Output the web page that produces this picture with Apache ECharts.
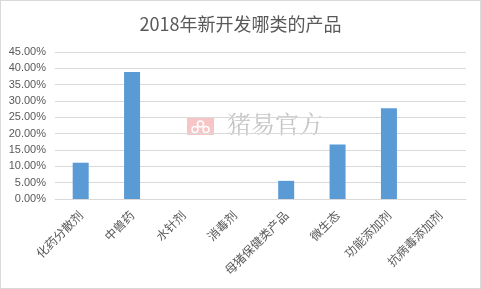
<!DOCTYPE html>
<html><head><meta charset="utf-8">
<script src="https://cdn.jsdelivr.net/npm/echarts@6/dist/echarts.min.js"></script>
<style>html,body{margin:0;padding:0;background:#fff}#c{width:481px;height:289px;box-sizing:border-box;border:1px solid #d9d9d9}</style>
</head><body><div id="c"></div>
<script>
const categories = ['化药分散剂','中兽药','水针剂','消毒剂','母猪保健类产品','微生态','功能添加剂','抗病毒添加剂'];
const values = [0.1111, 0.3889, 0, 0, 0.0556, 0.1667, 0.2778, 0];
const yTicks = {min: 0, max: 0.45, interval: 0.05};
const titleText = '2018年新开发哪类的产品';
const watermark = '猪易官方';

const chart = echarts.init(document.getElementById('c'), null, {renderer: 'canvas'});
chart.setOption({
  animation: false,
  title: {text: titleText, left: 'center', top: 9,
    textStyle: {fontSize: 18, fontWeight: 'normal', color: '#595959', fontFamily: 'Noto Sans CJK SC'}},
  grid: {left: 54, right: 14, top: 51, bottom: 89, containLabel: false},
  xAxis: {type: 'category', data: categories,
    axisLine: {lineStyle: {color: '#d9d9d9'}}, axisTick: {show: false},
    axisLabel: {rotate: 45, interval: 0, margin: 14, fontSize: 12, color: '#595959', fontFamily: 'Noto Sans CJK SC'}},
  yAxis: {type: 'value', min: yTicks.min, max: yTicks.max, interval: yTicks.interval,
    axisLine: {show: false}, axisTick: {show: false},
    splitLine: {lineStyle: {color: '#d9d9d9'}},
    axisLabel: {margin: 9, fontSize: 11, color: '#595959', fontFamily: 'Liberation Sans',
      formatter: v => (v * 100).toFixed(2) + '%'}},
  series: [{type: 'bar', data: values, barWidth: 16, itemStyle: {color: '#5b9bd5'}}],
  graphic: [
    {type: 'group', left: 186, top: 117, children: [
      {type: 'rect', shape: {x: 0, y: 0, width: 27, height: 17}, style: {fill: 'rgba(240,150,150,0.55)'}},
      {type: 'circle', shape: {cx: 13.5, cy: 6, r: 3}, style: {fill: 'none', stroke: '#fff', lineWidth: 1.5}},
      {type: 'circle', shape: {cx: 8, cy: 11.5, r: 3}, style: {fill: 'none', stroke: '#fff', lineWidth: 1.5}},
      {type: 'circle', shape: {cx: 19, cy: 11.5, r: 3}, style: {fill: 'none', stroke: '#fff', lineWidth: 1.5}}
    ]},
    {type: 'text', left: 226, top: 111, style: {text: watermark, fontSize: 24, fill: 'rgba(150,150,150,0.55)', fontFamily: 'Noto Serif CJK SC, Noto Sans CJK SC'}}
  ]
});
</script></body></html>
